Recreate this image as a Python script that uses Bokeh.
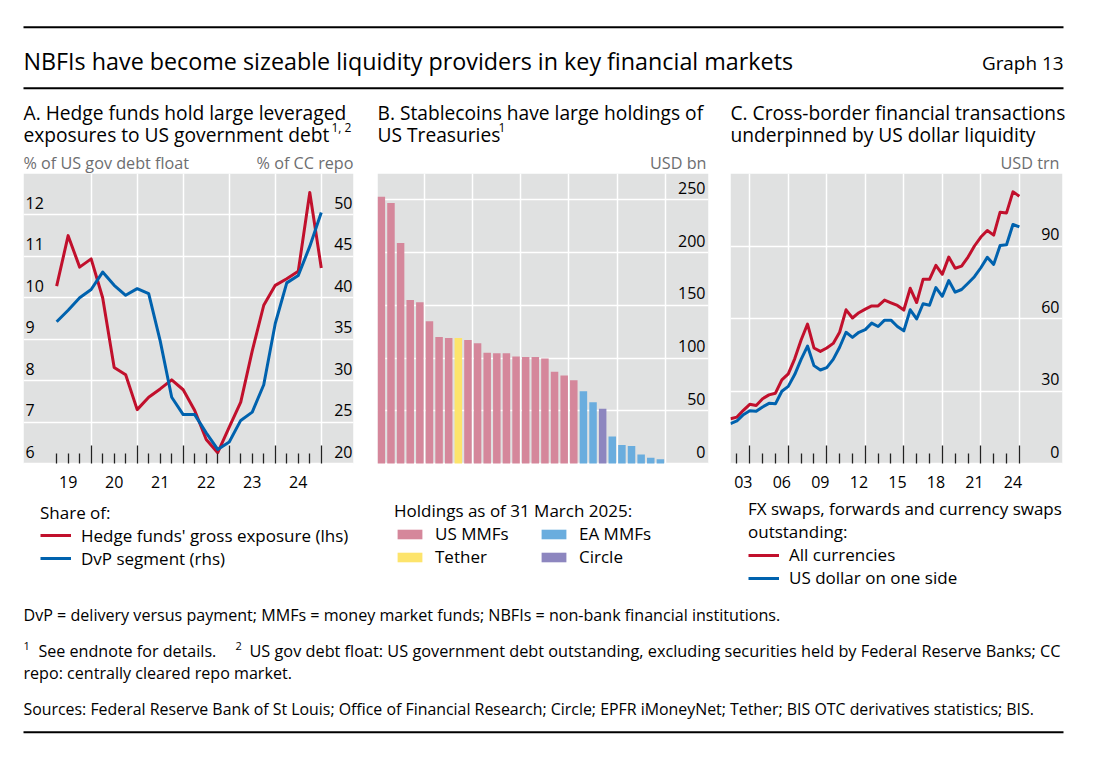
from bokeh.plotting import figure
from bokeh.models import (Range1d, LinearAxis, FixedTicker, Grid, Legend, LegendItem,
                          CustomJSTickFormatter, BoxAnnotation)
from bokeh.layouts import column, row
from bokeh.core.properties import value
from bokeh.embed import file_html
from bokeh.resources import INLINE

FONT = "Open Sans"
BG = "#e0e1e1"
RED = "#c1102c"
BLUE = "#0062ae"
PINK = "#d5879b"
YELLOW = "#fde46c"
LBLUE = "#6aadde"
PURPLE = "#8d86bf"
GREY_TXT = "#6d6e70"

# ---------------- data ----------------
# Panel A: quarterly
quarters_a = [f"{y}Q{q}" for y in range(2019, 2025) for q in range(1, 5)]
hedge_funds_share = [10.28, 11.50, 10.74, 10.94, 10.00, 8.32, 8.14, 7.30, 7.60, 7.80,
                     8.02, 7.78, 7.28, 6.58, 6.26, 6.88, 7.48, 8.72, 9.82, 10.30,
                     10.46, 10.64, 12.54, 10.72]
dvp_share = [37.1, 38.5, 40.0, 41.0, 43.1, 41.5, 40.3, 41.1, 40.5, 34.8,
             28.0, 25.9, 25.9, 23.7, 21.7, 22.6, 25.2, 26.2, 29.5, 36.9,
             41.8, 42.7, 46.2, 50.3]
a_year_ticks = [2020, 2021, 2022, 2023, 2024, 2025]
a_label_pos = [2019.5, 2020.5, 2021.5, 2022.5, 2023.5, 2024.5]
a_labels = ["19", "20", "21", "22", "23", "24"]
a_left_ticks = [6, 7, 8, 9, 10, 11, 12]
a_left_labels = ["6", "7", "8", "9", "10", "11", "12"]
a_right_ticks = [20, 25, 30, 35, 40, 45, 50]
a_right_labels = ["20", "25", "30", "35", "40", "45", "50"]

# Panel B: holdings of US Treasuries as of 31 March 2025, USD bn
holder_rank = list(range(1, 31))
holder_type = (["US MMFs"] * 8 + ["Tether"] + ["US MMFs"] * 12 +
               ["EA MMFs"] * 2 + ["Circle"] + ["EA MMFs"] * 6)
holdings = [253, 247, 209, 155, 153, 135, 120, 119, 119, 117,
            114, 105, 104.5, 104.5, 101.5, 101, 101, 99.5, 87, 83.5,
            79, 68.5, 58, 52, 25.5, 17.5, 16.5, 8.5, 5.5, 4]
b_grid_x = [5.5, 10.5, 15.5, 20.5, 25.5, 30.5]
b_ticks = [0, 50, 100, 150, 200, 250]
b_labels = ["0", "50", "100", "150", "200", "250"]

# Panel C: semiannual, USD trn
halves_c = [f"{y}H{h}" for y in range(2002, 2025) for h in (1, 2)]
fx_all = [18.5, 19.2, 22.0, 24.5, 24.0, 26.8, 28.4, 29.1, 34.6, 37.1,
          43.3, 51.1, 57.7, 47.8, 46.4, 47.8, 49.7, 54.3, 63.6, 60.2,
          62.4, 63.9, 65.2, 65.2, 67.6, 66.5, 65.4, 63.5, 72.5, 66.6,
          76.2, 76.2, 82.0, 78.3, 85.4, 80.8, 81.7, 85.4, 90.0, 93.7,
          96.4, 94.5, 104.0, 103.7, 112.4, 110.6]
fx_usd = [16.5, 17.6, 20.2, 21.8, 21.6, 23.4, 24.9, 24.7, 29.9, 31.9,
          36.8, 43.1, 48.6, 40.5, 38.7, 39.7, 43.1, 48.1, 54.3, 52.2,
          54.3, 55.4, 58.1, 56.7, 59.3, 59.3, 56.7, 54.9, 63.6, 59.8,
          66.1, 65.5, 72.8, 69.2, 75.7, 70.9, 72.0, 74.6, 77.3, 81.0,
          85.3, 82.4, 90.2, 90.5, 98.9, 97.9]
c_major_ticks = [2004, 2007, 2010, 2013, 2016, 2019, 2022, 2025]
c_minor_ticks = [2003, 2005, 2006, 2008, 2009, 2011, 2012, 2014, 2015, 2017,
                 2018, 2020, 2021, 2023, 2024]
c_label_pos = [2003.5, 2006.5, 2009.5, 2012.5, 2015.5, 2018.5, 2021.5, 2024.5]
c_labels = ["03", "06", "09", "12", "15", "18", "21", "24"]
c_ticks = [0, 30, 60, 90]
c_labels_y = ["0", "30", "60", "90"]


def q_to_year(s):
    return int(s[:4]) + int(s[5]) / 4.0


def h_to_year(s):
    return int(s[:4]) + int(s[5]) / 2.0


xa = [q_to_year(s) for s in quarters_a]
xc = [h_to_year(s) for s in halves_c]
a_minor = [x for x in xa if x not in a_year_ticks]

# ---------------- layout constants ----------------
H_P = 419           # height of each panel figure
BORDER_B = 3        # bottom border (tick axis panel)
DATA_PX = 290       # height of the grey data area, from the top of the frame
FRAME_PX = H_P - BORDER_B
TICK_FS = "16px"
LEG_FS = "17px"
Y_LAB_OFF = -6
X_LAB_OFF = 18.4


def data_range(lo, hi):
    """Range whose upper DATA_PX pixels show lo..hi; the rest holds labels and legend."""
    span = hi - lo
    return Range1d(lo - span * (FRAME_PX - DATA_PX) / DATA_PX, hi)


def panel(width, xr, yr, lo, left, right):
    p = figure(width=width, height=H_P, x_range=xr, y_range=yr,
               output_backend="svg", toolbar_location=None,
               x_axis_type=None, y_axis_type=None,
               min_border_left=left, min_border_right=right,
               min_border_top=0, min_border_bottom=BORDER_B)
    p.background_fill_color = "white"
    p.border_fill_color = "white"
    p.outline_line_color = None
    p.add_layout(BoxAnnotation(bottom=lo, fill_color=BG, fill_alpha=1.0,
                               line_color=None, level="image"))
    return p


def add_grid(p, xt, yt):
    p.add_layout(Grid(dimension=0, ticker=FixedTicker(ticks=xt),
                      grid_line_color="white", grid_line_width=1.5))
    p.add_layout(Grid(dimension=1, ticker=FixedTicker(ticks=yt),
                      grid_line_color="white", grid_line_width=1.5))


def add_x_axis(p, lo, majors, minors, lpos, labs):
    tick_ax = LinearAxis(ticker=FixedTicker(ticks=majors, minor_ticks=minors),
                         fixed_location=lo,
                         formatter=CustomJSTickFormatter(code="return ''"),
                         major_tick_in=18, major_tick_out=0,
                         minor_tick_in=10, minor_tick_out=0,
                         major_tick_line_color="#222222", minor_tick_line_color="#222222",
                         major_tick_line_width=1.3, minor_tick_line_width=1.3,
                         axis_line_color=None, major_label_text_font_size="1px",
                         major_label_standoff=0)
    p.add_layout(tick_ax, "below")
    p.text(x=lpos, y=[lo] * len(lpos), text=labs, text_align="center",
           text_baseline="middle", y_offset=X_LAB_OFF,
           text_font=value(FONT), text_font_size=TICK_FS, text_color="black")


def y_labels(p, at_end, ticks, labels, xoff, range_name="default"):
    x = p.x_range.end if at_end else p.x_range.start
    p.text(x=[x] * len(ticks), y=ticks, text=labels,
           text_align="right" if at_end else "left", text_baseline="bottom",
           x_offset=xoff, y_offset=Y_LAB_OFF, y_range_name=range_name,
           text_font=value(FONT), text_font_size=TICK_FS, text_color="black")


def style_legend(leg, loc, title, standoff=-3):
    leg.location = loc
    leg.title = title
    leg.title_text_font = FONT
    leg.title_text_font_size = LEG_FS
    leg.title_text_font_style = "normal"
    leg.title_text_color = "black"
    leg.title_standoff = standoff
    leg.label_text_font = FONT
    leg.label_text_font_size = LEG_FS
    leg.label_text_color = "black"
    leg.border_line_color = None
    leg.background_fill_alpha = 0
    leg.padding = 0
    leg.margin = 0
    leg.spacing = -1
    leg.glyph_width = 31
    leg.glyph_height = 12
    leg.label_height = 12
    leg.label_standoff = 10
    leg.click_policy = "none"


# ---------------- Panel A ----------------
pa = panel(365, Range1d(2018.53, 2025.70), data_range(6, 13), 6, 23, 12)
pa.extra_y_ranges = {"right": data_range(20, 55)}
add_grid(pa, a_year_ticks, a_left_ticks)
add_x_axis(pa, 6, a_year_ticks, a_minor, a_label_pos, a_labels)
ra = pa.line(xa, hedge_funds_share, line_color=RED, line_width=3, line_join="round")
rb = pa.line(xa, dvp_share, line_color=BLUE, line_width=3, line_join="round",
             y_range_name="right")
y_labels(pa, False, a_left_ticks, a_left_labels, 2)
y_labels(pa, True, a_right_ticks, a_right_labels, -1, "right")
leg_a = Legend(items=[LegendItem(label="Hedge funds' gross exposure (lhs)", renderers=[ra]),
                      LegendItem(label="DvP segment (rhs)", renderers=[rb])])
style_legend(leg_a, (17, 19.5), "Share of:")
pa.add_layout(leg_a)

# ---------------- Panel B ----------------
pb = panel(354, Range1d(0.6, 35.0), data_range(0, 275), 0, 12, 11)
add_grid(pb, b_grid_x, b_ticks)
type_colors = {"US MMFs": PINK, "Tether": YELLOW, "EA MMFs": LBLUE, "Circle": PURPLE}
bar_r = {}
for t in ["US MMFs", "Tether", "EA MMFs", "Circle"]:
    xs = [r for r, ty in zip(holder_rank, holder_type) if ty == t]
    ys = [v for v, ty in zip(holdings, holder_type) if ty == t]
    bar_r[t] = pb.vbar(x=xs, top=ys, bottom=0, width=0.78, fill_color=type_colors[t],
                       line_color=None)
y_labels(pb, True, b_ticks, b_labels, -3)
leg_b = Legend(items=[LegendItem(label="US MMFs", renderers=[bar_r["US MMFs"]]),
                      LegendItem(label="Tether", renderers=[bar_r["Tether"]]),
                      LegendItem(label="EA MMFs", renderers=[bar_r["EA MMFs"]]),
                      LegendItem(label="Circle", renderers=[bar_r["Circle"]])],
               nrows=2)
style_legend(leg_b, (17, 21), "Holdings as of 31 March 2025:", standoff=-7)
leg_b.label_width = 103
pb.add_layout(leg_b)

# ---------------- Panel C ----------------
pc = panel(381, Range1d(2002.5, 2028.36), data_range(0, 120), 0, 11, 38)
add_grid(pc, c_major_ticks, c_ticks)
add_x_axis(pc, 0, c_major_ticks, c_minor_ticks, c_label_pos, c_labels)
rc1 = pc.line(xc, fx_all, line_color=RED, line_width=3, line_join="round")
rc2 = pc.line(xc, fx_usd, line_color=BLUE, line_width=3, line_join="round")
y_labels(pc, True, c_ticks, c_labels_y, -3)
leg_c = Legend(items=[LegendItem(label="All currencies", renderers=[rc1]),
                      LegendItem(label="US dollar on one side", renderers=[rc2])])
style_legend(leg_c, (18, 0), "FX swaps, forwards and currency swaps\noutstanding:", standoff=-6)
leg_c.title_text_line_height = 1.05
pc.add_layout(leg_c)

# ---------------- header ----------------
HW, HH = 1100, 173
hd = figure(width=HW, height=HH, x_range=Range1d(0, HW), y_range=Range1d(HH, 0),
            output_backend="svg", toolbar_location=None, x_axis_type=None, y_axis_type=None,
            min_border=0)
hd.outline_line_color = None
hd.segment(x0=[23, 23], y0=[26.7, 87.7], x1=[1063, 1063], y1=[26.7, 87.7],
           line_color="black", line_width=2)
hd.text(x=[23], y=[60.5], text=["NBFIs have become sizeable liquidity providers in key financial markets"],
        text_font=value(FONT), text_font_size="23.3px", text_baseline="middle", text_color="black")
hd.text(x=[1063], y=[62], text=["Graph 13"], text_align="right",
        text_font=value(FONT), text_font_size="18.9px", text_baseline="middle", text_color="black")
title_lines = [
    (23, 112, "A. Hedge funds hold large leveraged"),
    (23, 134, "exposures to US government debt"),
    (377, 112, "B. Stablecoins have large holdings of"),
    (377, 134, "US Treasuries"),
    (730, 112, "C. Cross-border financial transactions"),
    (730, 134, "underpinned by US dollar liquidity"),
]
hd.text(x=[t[0] for t in title_lines], y=[t[1] for t in title_lines],
        text=[t[2] for t in title_lines], text_font=value(FONT), text_font_size="19.2px",
        text_baseline="middle", text_color="black")
hd.text(x=[331, 498], y=[127, 127], text=["1, 2", "1"], text_font=value(FONT),
        text_font_size="12px", text_baseline="middle", text_color="black")
hd.text(x=[23], y=[162], text=["% of US gov debt float"], text_font=value(FONT),
        text_font_size="16.2px", text_baseline="middle", text_color=GREY_TXT)
hd.text(x=[353, 706, 1059], y=[162, 162, 162], text=["% of CC repo", "USD bn", "USD trn"],
        text_align="right", text_font=value(FONT), text_font_size="16.2px",
        text_baseline="middle", text_color=GREY_TXT)

# ---------------- footer ----------------
FT0 = 592
FH = 764 - FT0
ft = figure(width=HW, height=FH, x_range=Range1d(0, HW), y_range=Range1d(FT0 + FH, FT0),
            output_backend="svg", toolbar_location=None, x_axis_type=None, y_axis_type=None,
            min_border=0)
ft.outline_line_color = None
ft.text(x=[23, 38, 23], y=[614, 650, 672.5],
        text=["DvP = delivery versus payment; MMFs = money market funds; NBFIs = non-bank financial institutions.",
              "See endnote for details.",
              "repo: centrally cleared repo market."],
        text_font=value(FONT), text_font_size="16.1px", text_baseline="middle", text_color="black")
ft.text(x=[249], y=[650],
        text=["US gov debt float: US government debt outstanding, excluding securities held by Federal Reserve Banks; CC"],
        text_font=value(FONT), text_font_size="16.3px", text_baseline="middle", text_color="black")
ft.text(x=[23], y=[708],
        text=["Sources: Federal Reserve Bank of St Louis; Office of Financial Research; Circle; EPFR iMoneyNet; Tether; BIS OTC derivatives statistics; BIS."],
        text_font=value(FONT), text_font_size="15.9px", text_baseline="middle", text_color="black")
ft.text(x=[23, 235], y=[645, 645], text=["1", "2"], text_font=value(FONT), text_font_size="11px",
        text_baseline="middle", text_color="black")
ft.segment(x0=[23], y0=[731.7], x1=[1063], y1=[731.7], line_color="black", line_width=2)

layout = column(hd, row(pa, pb, pc, spacing=0), ft, spacing=0)
open("out.html", "w").write(file_html(layout, INLINE))
